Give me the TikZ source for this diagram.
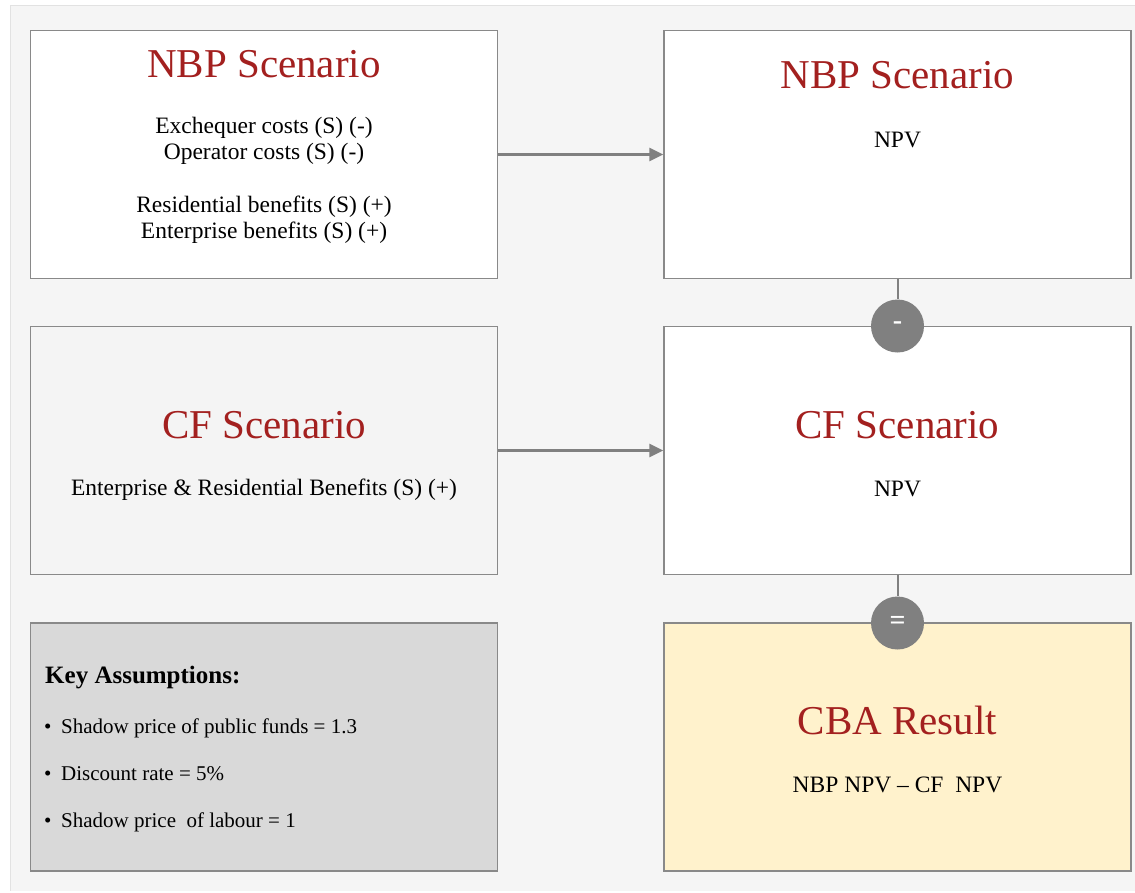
\documentclass[tikz,border=0pt]{standalone}
\usepackage{xcolor}
\usepackage{fontspec}
\setmainfont{Liberation Serif}
\usetikzlibrary{arrows.meta}

\definecolor{titlered}{HTML}{A3201F}
\definecolor{boxgray}{HTML}{898989}
\definecolor{pagegray}{HTML}{F5F5F5}
\definecolor{pageedge}{HTML}{E2E2E2}
\definecolor{cfgray}{HTML}{F4F4F4}
\definecolor{keygray}{HTML}{D9D9D9}
\definecolor{resultyellow}{HTML}{FFF2CC}
\definecolor{opgray}{HTML}{808080}

\tikzset{
  panel/.style={draw=boxgray, line width=1.4pt, minimum width=467pt, minimum height=248pt, inner sep=0pt},
  heading/.style={text=titlered, font=\fontsize{41}{49}\selectfont, anchor=base, inner sep=0pt},
  body/.style={font=\fontsize{23.5}{28}\selectfont, anchor=base, inner sep=0pt},
  flow/.style={draw=opgray, line width=2.5pt, -{Triangle[length=14pt,width=13pt]}},
  link/.style={draw=opgray, line width=2pt},
  op/.style={circle, fill=opgray, minimum size=53pt, inner sep=0pt, text=white, font=\fontsize{28}{32}\selectfont\bfseries}
}

\begin{document}
\begin{tikzpicture}

\begin{scope}[x=1pt, y=-1pt]

\useasboundingbox (0,0) rectangle (1135,892);
\fill[pagegray] (10,5) rectangle (1135,891);
\draw[pageedge, line width=1pt] (10,891) -- (10,5) -- (1135,5);

% boxes
\node[panel, fill=white] (nbpl) at (264,154.5) {};
\node[panel, fill=white] (nbpr) at (897.5,154.5) {};
\node[panel, fill=cfgray] (cfl) at (264,450.5) {};
\node[panel, fill=white] (cfr) at (897.5,450.5) {};
\node[panel, fill=keygray] (key) at (264,747) {};
\node[panel, fill=resultyellow] (cba) at (897.5,747) {};

% texts
\node[heading] (nbpltitle) at (264,77) {NBP Scenario};
\foreach \i/\y/\txt in {1/133.5/Exchequer costs (S) (-), 2/159/Operator costs (S) (-), 3/212/Residential benefits (S) (+), 4/238/Enterprise benefits (S) (+)}
\node[body] (nbpitem\i) at (264,\y) {\txt};

\node[heading] (nbprtitle) at (897.5,88) {NBP Scenario};
\node[body] (nbprnpv) at (897.5,147) {NPV};

\node[heading] (cfltitle) at (264,438) {CF Scenario};
\node[body] (cflitem) at (264,495) {Enterprise \& Residential Benefits (S) (+)};

\node[heading] (cfrtitle) at (897.5,438) {CF Scenario};
\node[body] (cfrnpv) at (897.5,496) {NPV};

\node[body, anchor=base west, font=\fontsize{25}{30}\selectfont\bfseries] (keytitle) at (45,683) {Key Assumptions:};
\foreach \i/\y/\txt in {1/733/Shadow price of public funds = 1.3, 2/780/Discount rate = 5\%, 3/827/Shadow price\ \ of labour = 1}
{
\node[body, anchor=base west, font=\fontsize{21}{25}\selectfont] (bullet\i) at (44,\y) {•};
\node[body, anchor=base west, font=\fontsize{21}{25}\selectfont] (assume\i) at (61,\y) {\txt};
}

\node[heading] (cbatitle) at (897.5,734) {CBA Result};
\node[body] (cbaitem) at (897.5,792) {NBP NPV – CF\ \ NPV};

% connectors
\draw[flow] (nbpl.east) -- (nbpr.west);
\draw[flow] (cfl.east) -- (cfr.west);

\node[op] (minus) at (897.5,326) {-};
\node[op] (equals) at (897.5,623) {=};
\draw[link] (nbpr.south) -- (minus.north);
\draw[link] (cfr.south) -- (equals.north);

\end{scope}
\end{tikzpicture}
\end{document}
